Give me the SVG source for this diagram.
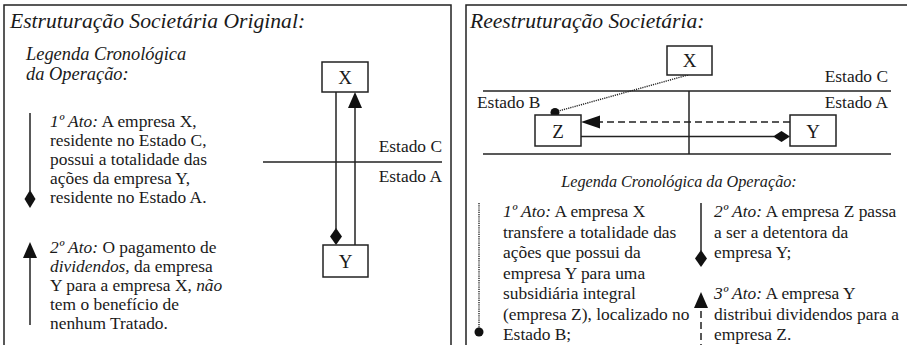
<svg xmlns="http://www.w3.org/2000/svg" width="907" height="345" viewBox="0 0 907 345">
<style>
text{font-family:"Liberation Serif","Times New Roman",serif;fill:#1a1a1a;}
.t{font-size:21.6px;font-style:italic;}
.b{font-size:17.4px;}
.i{font-style:italic;}
.n{font-size:19px;text-anchor:middle;}
.box{fill:#fff;stroke:#222;stroke-width:1.5;}
.ln{stroke:#222;stroke-width:1.5;fill:none;}
.dash{stroke:#222;stroke-width:1.5;fill:none;stroke-dasharray:7,4;}
.dot{stroke:#222;stroke-width:1.4;fill:none;stroke-dasharray:1.2,1;}
.fill{fill:#111;stroke:none;}
.panel{fill:#fff;stroke:#222;stroke-width:1.5;}
</style>
<rect x="0" y="0" width="907" height="345" fill="#fff"/>
<rect class="panel" x="4" y="5" width="447" height="350"/>
<rect class="panel" x="466" y="5" width="450" height="350"/>

<!-- Left panel -->
<text class="t" x="10" y="28">Estruturação Societária Original:</text>
<text class="i" x="26" y="60" font-size="18.4">Legenda Cronológica</text>
<text class="i" x="26" y="80" font-size="18.4">da Operação:</text>

<g id="legend-left-1">
<line class="ln" x1="30" y1="113" x2="30" y2="191"/>
<polygon class="fill" points="30,190 35.5,199 30,208 24.5,199"/>
<text class="b" x="50" y="127"><tspan class="i">1º Ato:</tspan> A empresa X,</text>
<text class="b" x="50" y="146">residente no Estado C,</text>
<text class="b" x="50" y="165">possui a totalidade das</text>
<text class="b" x="50" y="184">ações da empresa Y,</text>
<text class="b" x="50" y="203">residente no Estado A.</text>
</g>
<g id="legend-left-2">
<line class="ln" x1="30" y1="256" x2="30" y2="325"/>
<polygon class="fill" points="30,242 37,258 23,258"/>
<text class="b" x="50" y="253"><tspan class="i">2º Ato:</tspan> O pagamento de</text>
<text class="b" x="50" y="272"><tspan class="i">dividendos,</tspan> da empresa</text>
<text class="b" x="50" y="291">Y para a empresa X, <tspan class="i">não</tspan></text>
<text class="b" x="50" y="310">tem o benefício de</text>
<text class="b" x="50" y="329">nenhum Tratado.</text>
</g>

<g id="left-states">
<line class="ln" x1="263" y1="162" x2="442" y2="162"/>
<text class="b" x="442" y="152" text-anchor="end">Estado C</text>
<text class="b" x="442" y="182" text-anchor="end">Estado A</text>
</g>

<g id="left-connectors">
<line class="ln" x1="336" y1="92" x2="336" y2="229"/>
<polygon class="fill" points="336,228 342,236.5 336,245 330,236.5"/>
<line class="ln" x1="355" y1="245" x2="355" y2="106"/>
<polygon class="fill" points="355,92 362,108 348,108"/>
</g>
<g id="left-X">
<rect class="box" x="322" y="62" width="46" height="30"/>
<text class="n" x="345" y="84">X</text>
</g>
<g id="left-Y">
<rect class="box" x="323" y="245" width="45" height="32"/>
<text class="n" x="345.5" y="268">Y</text>
</g>

<!-- Right panel -->
<text class="t" x="470" y="28">Reestruturação Societária:</text>

<g id="right-states">
<line class="ln" x1="483" y1="91" x2="891" y2="91"/>
<line class="ln" x1="483" y1="154" x2="891" y2="154"/>
<line class="ln" x1="689" y1="91" x2="689" y2="154"/>
<text class="b" x="888" y="82" text-anchor="end">Estado C</text>
<text class="b" x="888" y="108" text-anchor="end">Estado A</text>
<text class="b" x="477" y="108">Estado B</text>
</g>

<g id="right-connectors">
<line class="dot" x1="688" y1="75" x2="555" y2="112"/>
<circle class="fill" cx="555" cy="112.5" r="4.5"/>
<line class="dash" x1="790" y1="122" x2="597" y2="122"/>
<polygon class="fill" points="581,122 600,115.5 600,128.5"/>
<line class="ln" x1="581" y1="136.5" x2="774" y2="136.5"/>
<polygon class="fill" points="773,136.5 781.5,131 790,136.5 781.5,142"/>
</g>
<g id="right-X">
<rect class="box" x="667" y="46" width="45" height="29"/>
<text class="n" x="689.5" y="67">X</text>
</g>
<g id="right-Z">
<rect class="box" x="535" y="115" width="46" height="31"/>
<text class="n" x="558" y="138">Z</text>
</g>
<g id="right-Y">
<rect class="box" x="790" y="115" width="46" height="31"/>
<text class="n" x="813" y="138">Y</text>
</g>

<text class="i" x="679" y="187" font-size="16.2" text-anchor="middle">Legenda Cronológica da Operação:</text>

<g id="legend-right-1">
<line class="dot" x1="479" y1="203" x2="479" y2="329"/>
<circle class="fill" cx="479" cy="332" r="4.5"/>
<text class="b" x="503" y="217"><tspan class="i">1º Ato:</tspan> A empresa X</text>
<text class="b" x="503" y="237.5">transfere a totalidade das</text>
<text class="b" x="503" y="258">ações que possui da</text>
<text class="b" x="503" y="278.5">empresa Y para uma</text>
<text class="b" x="503" y="299">subsidiária integral</text>
<text class="b" x="503" y="319.5">(empresa Z), localizado no</text>
<text class="b" x="503" y="340">Estado B;</text>
</g>
<g id="legend-right-2">
<line class="ln" x1="701" y1="203" x2="701" y2="251"/>
<polygon class="fill" points="701,250 707,258.5 701,267 695,258.5"/>
<text class="b" x="714" y="217"><tspan class="i">2º Ato:</tspan> A empresa Z passa</text>
<text class="b" x="714" y="237.5">a ser a detentora da</text>
<text class="b" x="714" y="258">empresa Y;</text>
</g>
<g id="legend-right-3">
<line class="dash" x1="701" y1="311" x2="701" y2="345"/>
<polygon class="fill" points="701,292 708,308 694,308"/>
<text class="b" x="714" y="299"><tspan class="i">3º Ato:</tspan> A empresa Y</text>
<text class="b" x="714" y="319.5">distribui dividendos para a</text>
<text class="b" x="714" y="340">empresa Z.</text>
</g>
</svg>
